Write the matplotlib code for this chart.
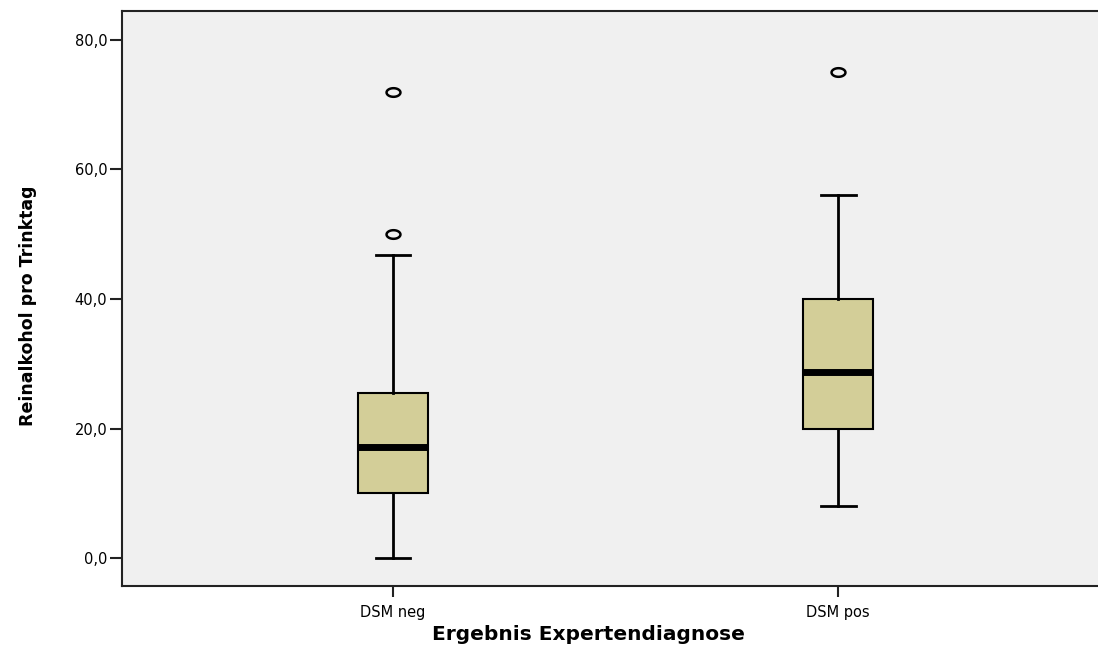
import matplotlib
matplotlib.use('Agg')
import numpy as np
import matplotlib.pyplot as plt
from matplotlib.path import Path

# werte
gruppen = ['DSM neg', 'DSM pos']
unterer_whisker = [0.0, 8.0]
q1 = [10.0, 20.0]
median = [17.1, 28.7]
q3 = [25.5, 40.0]
oberer_whisker = [46.8, 56.0]
ausreisser = [[50.0, 72.0], [75.0]]

y_ticks = [0, 20, 40, 60, 80]
y_tick_labels = ['0,0', '20,0', '40,0', '60,0', '80,0']

cor_caixa = '#D3CE98'
cor_fundo = '#F0F0F0'
cor_linha = '#222222'

# marcador oval (spss desenha os ausreisser meio achatados)
t = np.linspace(0, 2 * np.pi, 60)
oval = Path(np.column_stack([np.cos(t), 0.62 * np.sin(t)]), closed=True)

fig = plt.figure(figsize=(10.98, 6.5), dpi=100)
ax = fig.add_axes([0.1111, 0.0985, 0.8889, 0.8846])
ax.set_facecolor(cor_fundo)

stats = []
for i, nome in enumerate(gruppen):
    stats.append(dict(label=nome, whislo=unterer_whisker[i], q1=q1[i], med=median[i],
                      q3=q3[i], whishi=oberer_whisker[i], fliers=ausreisser[i]))

ax.bxp(stats, positions=[1, 2], widths=0.157, patch_artist=True,
       boxprops=dict(facecolor=cor_caixa, edgecolor='black', linewidth=1.5),
       medianprops=dict(color='black', linewidth=5, solid_capstyle='butt'),
       whiskerprops=dict(color='black', linewidth=2),
       capprops=dict(color='black', linewidth=2),
       capwidths=0.0785,
       flierprops=dict(marker=oval, markerfacecolor='none', markeredgecolor='black',
                       markersize=10, markeredgewidth=1.8))

ax.set_xlim(0.391, 2.584)
ax.set_ylim(-4.32, 84.48)
ax.set_yticks(y_ticks)
ax.set_yticklabels(y_tick_labels, fontsize=10.5)
ax.tick_params(axis='y', length=9, width=1.5, color=cor_linha, pad=1.5)
ax.tick_params(axis='x', length=8, width=1.5, color=cor_linha, labelsize=10.5, pad=6)

for lado in ['left', 'bottom', 'top']:
    ax.spines[lado].set_linewidth(1.5)
    ax.spines[lado].set_color(cor_linha)
ax.spines['right'].set_visible(False)

ax.set_xlabel('Ergebnis Expertendiagnose', fontsize=14.5, fontweight='bold')
ax.xaxis.set_label_coords(0.478, -0.068)
ax.set_ylabel('Reinalkohol pro Trinktag', fontsize=12.5, fontweight='bold')
ax.yaxis.set_label_coords(-0.087, 0.487)

plt.savefig('out.png', dpi=100)
